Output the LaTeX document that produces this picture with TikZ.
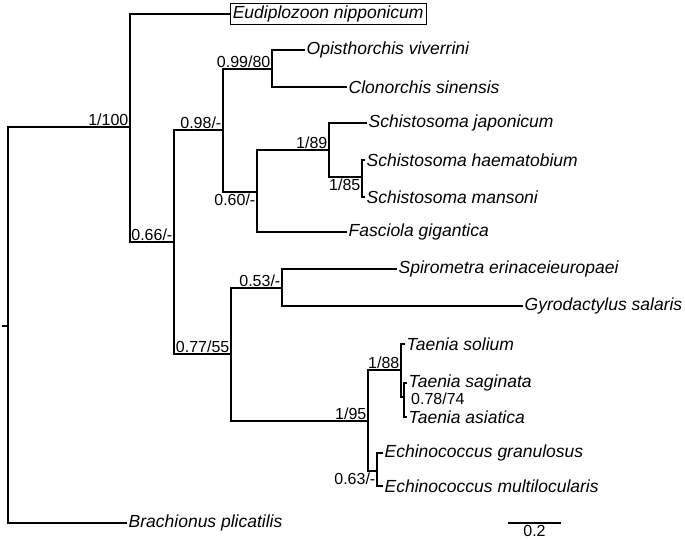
\documentclass[tikz,border=0pt]{standalone}
\usepackage{fontspec}
\setmainfont{Liberation Sans}
\usetikzlibrary{positioning}
\tikzset {
    branch/.style = {line width = 1.6pt},
    taxon/.style = {
        anchor = west,
        inner sep = 1.5pt,
        font = \fontsize{17.5}{20}\selectfont\itshape
    },
    support/.style = {inner sep = 1.5pt, font = \fontsize{16}{18}\selectfont},
    boxed/.style = {draw, line width = 0.6pt, inner sep = 2.5pt},
}
\begin{document}
\begin{tikzpicture}[x = 1pt, y = -1pt]
    \useasboundingbox (0, 0) rectangle (685, 540);
    % internal nodes
    \coordinate (base) at (2, 326);
    \coordinate (r) at (8, 326);
    \coordinate (n1) at (130, 127);
    \coordinate (n2) at (174, 242);
    \coordinate (n3) at (223, 130);
    \coordinate (n4) at (272, 69);
    \coordinate (n5) at (257, 192);
    \coordinate (n6) at (329, 150);
    \coordinate (n6b) at (362, 177);
    \coordinate (n7) at (231, 354);
    \coordinate (n8) at (282, 288);
    \coordinate (n9) at (368, 421);
    \coordinate (n10) at (401, 370);
    \coordinate (n11) at (404, 397);
    \coordinate (n12) at (377, 471);
    % taxa
    \node (eud) [taxon, boxed] at (230, 14) {Eudiplozoon nipponicum};
    \node (opi) [taxon] at (305, 50) {Opisthorchis viverrini};
    \node (clo) [taxon] at (347, 87) {Clonorchis sinensis};
    \node (sja) [taxon] at (367, 123) {Schistosoma japonicum};
    \node (sha) [taxon] at (365, 160) {Schistosoma haematobium};
    \node (sma) [taxon] at (365, 197) {Schistosoma mansoni};
    \node (fas) [taxon] at (347, 232) {Fasciola gigantica};
    \node (spi) [taxon] at (397, 269) {Spirometra erinaceieuropaei};
    \node (gyr) [taxon] at (523, 306) {Gyrodactylus salaris};
    \node (tso) [taxon] at (405, 344) {Taenia solium};
    \node (tsa) [taxon] at (407, 383) {Taenia saginata};
    \node (tas) [taxon] at (407, 417) {Taenia asiatica};
    \node (egr) [taxon] at (383, 453) {Echinococcus granulosus};
    \node (emu) [taxon] at (383, 486) {Echinococcus multilocularis};
    \node (bra) [taxon] at (127, 523) {Brachionus plicatilis};
    % branches
    \draw [branch] (base) -- (r);
    \draw [branch] (r) |- (n1);
    \draw [branch] (r) |- (bra.west);
    \draw [branch] (n1) |- (eud.west);
    \draw [branch] (n1) |- (n2);
    \draw [branch] (n2) |- (n3);
    \draw [branch] (n2) |- (n7);
    \draw [branch] (n3) |- (n4);
    \draw [branch] (n3) |- (n5);
    \draw [branch] (n4) |- (opi.west);
    \draw [branch] (n4) |- (clo.west);
    \draw [branch] (n5) |- (n6);
    \draw [branch] (n5) |- (fas.west);
    \draw [branch] (n6) |- (sja.west);
    \draw [branch] (n6) |- (n6b);
    \draw [branch] (n6b) |- (sha.west);
    \draw [branch] (n6b) |- (sma.west);
    \draw [branch] (n7) |- (n8);
    \draw [branch] (n7) |- (n9);
    \draw [branch] (n8) |- (spi.west);
    \draw [branch] (n8) |- (gyr.west);
    \draw [branch] (n9) |- (n10);
    \draw [branch] (n9) |- (n12);
    \draw [branch] (n10) |- (tso.west);
    \draw [branch] (n10) |- (n11);
    \draw [branch] (n11) |- (tsa.west);
    \draw [branch] (n11) |- (tas.west);
    \draw [branch] (n12) |- (egr.west);
    \draw [branch] (n12) |- (emu.west);
    % support values
    \node (s1) [support, anchor = south east] at (n1) {1/100};
    \node (s2) [support, anchor = south east] at (n2) {0.66/-};
    \node (s3) [support, anchor = south east] at (n3) {0.98/-};
    \node (s4) [support, anchor = south east] at (n4) {0.99/80};
    \node (s5) [support, anchor = north east] at (n5) {0.60/-};
    \node (s6) [support, anchor = south east] at (n6) {1/89};
    \node (s6b) [support, anchor = north east] at (n6b) {1/85};
    \node (s7) [support, anchor = south east] at (n7) {0.77/55};
    \node (s8) [support, anchor = south east] at (n8) {0.53/-};
    \node (s9) [support, anchor = south east] at (n9) {1/95};
    \node (s10) [support, anchor = south east] at (n10) {1/88};
    \node (s11) [support, inner sep = 0pt, anchor = west, xshift = 7pt, yshift = -2pt] at (n11) {0.78/74};
    \node (s12) [support, anchor = north east] at (n12) {0.63/-};
    % scale bar
    \coordinate (sb1) at (508, 523);
    \coordinate (sb2) at (561, 523);
    \draw [branch] (sb1) -- (sb2) node (sbl) [support, midway, below] {0.2};
\end{tikzpicture}
\end{document}
